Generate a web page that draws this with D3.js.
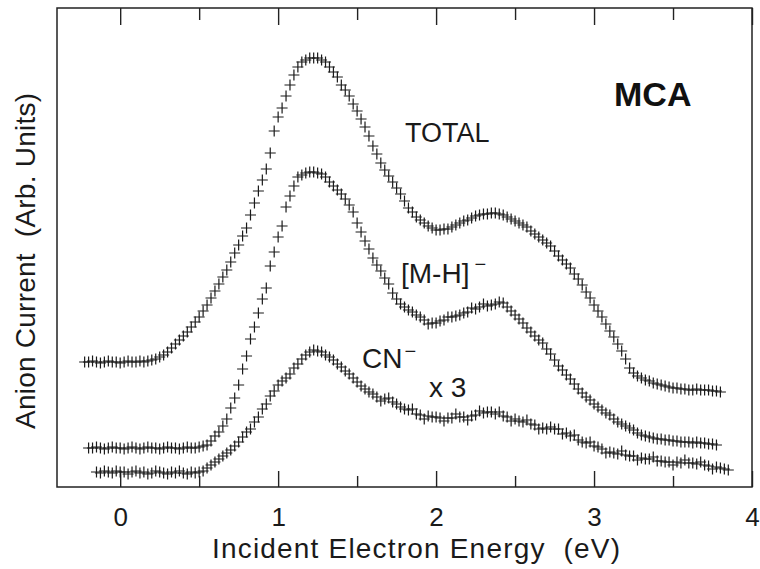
<!DOCTYPE html>
<html><head><meta charset="utf-8">
<script src="https://cdn.jsdelivr.net/npm/d3@7"></script>
<style>body{margin:0;background:#fff}svg{display:block}</style>
</head><body><svg id="c" width="760" height="569"></svg>
<script>
// Incident electron energy grid (eV)
const energy = [
-0.25,-0.225,-0.2,-0.175,-0.15,-0.125,-0.1,-0.075,-0.05,-0.025,
0,0.025,0.05,0.075,0.1,0.125,0.15,0.175,0.2,0.225,
0.25,0.275,0.3,0.325,0.35,0.375,0.4,0.425,0.45,0.475,
0.5,0.525,0.55,0.575,0.6,0.625,0.65,0.675,0.7,0.725,
0.75,0.775,0.8,0.825,0.85,0.875,0.9,0.925,0.95,0.975,
1,1.025,1.05,1.075,1.1,1.125,1.15,1.175,1.2,1.225,
1.25,1.275,1.3,1.325,1.35,1.375,1.4,1.425,1.45,1.475,
1.5,1.525,1.55,1.575,1.6,1.625,1.65,1.675,1.7,1.725,
1.75,1.775,1.8,1.825,1.85,1.875,1.9,1.925,1.95,1.975,
2,2.025,2.05,2.075,2.1,2.125,2.15,2.175,2.2,2.225,
2.25,2.275,2.3,2.325,2.35,2.375,2.4,2.425,2.45,2.475,
2.5,2.525,2.55,2.575,2.6,2.625,2.65,2.675,2.7,2.725,
2.75,2.775,2.8,2.825,2.85,2.875,2.9,2.925,2.95,2.975,
3,3.025,3.05,3.075,3.1,3.125,3.15,3.175,3.2,3.225,
3.25,3.275,3.3,3.325,3.35,3.375,3.4,3.425,3.45,3.475,
3.5,3.525,3.55,3.575,3.6,3.625,3.65,3.675,3.7,3.725,
3.75,3.775,3.8,3.825,3.85];

// TOTAL anion current (arb. units, offset curve)
const total = [
null,125,125,126,125,124,125,126,125,125,
124,125,126,125,125,126,125,126,127,128,
130,132,135,139,143,147,151,155,160,165,
170,176,182,189,196,203,210,217,225,234,
242,251,259,272,284,296,307,318,334,356,
370,379,391,402,412,420,425,427,429,429,
429,427,425,420,415,410,402,397,391,383,
376,368,360,351,341,333,324,317,311,305,
299,293,286,279,275,270,267,264,261,259,
257,257,258,258,260,262,264,266,267,269,
271,272,273,273,274,274,273,272,270,268,
266,264,262,260,256,253,250,247,244,241,
236,231,227,223,219,213,208,202,195,189,
182,176,170,163,156,150,143,136,128,119,
114,111,109,107,106,104,103,102,101,100,
99,99,98,98,97,97,98,97,97,97,
96,96,95,null,null];

// [M-H]- anion current
const mh = [
null,null,39,39,40,39,38,39,40,39,
39,38,39,40,39,38,39,40,39,39,
38,39,40,39,39,38,39,40,39,39,
40,41,42,46,51,55,61,68,79,89,
102,118,131,148,160,174,188,199,221,235,
250,261,280,291,301,310,312,314,315,315,
314,313,310,305,301,297,293,288,282,275,
264,255,246,238,229,222,216,209,203,194,
188,183,180,177,175,172,170,167,163,164,
164,166,167,170,170,171,172,174,175,179,
178,180,183,181,182,183,185,184,180,176,
172,168,164,159,155,151,147,144,138,133,
127,121,117,112,108,103,98,94,90,87,
83,80,77,74,72,68,65,63,61,59,
57,54,52,51,50,49,48,48,47,47,
46,46,45,45,45,44,45,44,44,43,
43,42,null,null,null];

// CN- anion current (x 3)
const cn = [
null,null,null,null,15,14,16,15,14,16,
15,15,13,15,16,14,15,13,14,16,
15,14,13,15,14,16,14,13,15,14,
15,16,19,22,25,28,31,34,37,41,
45,50,55,58,65,70,78,83,91,96,
102,106,109,113,119,123,128,132,135,137,
136,135,132,130,127,123,120,116,113,109,
105,101,98,95,93,90,86,88,89,85,
83,80,78,77,78,73,72,68,71,70,
70,69,66,69,69,73,70,70,67,71,
72,76,74,75,75,73,75,71,70,66,
68,66,65,67,63,62,58,59,58,60,
58,58,53,54,51,52,47,45,44,45,
41,40,38,34,35,34,33,36,32,31,
31,27,29,28,28,30,26,26,25,25,
22,25,24,27,24,24,23,25,22,21,
18,20,19,18,17];

const xMajor = [0,1,2,3,4];
const xMinor = [0.5,1.5,2.5,3.5];
const seriesList = [total, mh, cn];

const svg = d3.select("#c");
const FONT = "'Liberation Sans', Arial, Helvetica, sans-serif";
const INK = "#1a1a1a";
const x = d3.scaleLinear().domain([-0.4, 4.0]).range([57, 752]);
const y = d3.scaleLinear().domain([0, 479]).range([487, 8]);

function styleTicks(g) {
  g.select(".domain").remove();
  g.selectAll("line").attr("stroke", "#222").attr("stroke-width", 1.4);
}

// bottom axis major (inward ticks) with labels
const gB = svg.append("g").attr("transform", `translate(0,${y(0)})`)
  .call(d3.axisBottom(x).tickValues(xMajor).tickSizeInner(-16).tickSizeOuter(0).tickPadding(21).tickFormat(d3.format("d")));
styleTicks(gB);
gB.selectAll("text").attr("font-family", FONT).attr("font-size", 26).attr("fill", INK);

const gBm = svg.append("g").attr("transform", `translate(0,${y(0)})`)
  .call(d3.axisBottom(x).tickValues(xMinor).tickSizeInner(-11).tickSizeOuter(0).tickFormat(""));
styleTicks(gBm);

// top axis (inward ticks, no labels)
const gT = svg.append("g").attr("transform", `translate(0,${y(479)})`)
  .call(d3.axisTop(x).tickValues(xMajor).tickSizeInner(-17).tickSizeOuter(0).tickFormat(""));
styleTicks(gT);
const gTm = svg.append("g").attr("transform", `translate(0,${y(479)})`)
  .call(d3.axisTop(x).tickValues(xMinor).tickSizeInner(-12).tickSizeOuter(0).tickFormat(""));
styleTicks(gTm);

// frame
svg.append("rect")
  .attr("x", x(-0.4)).attr("y", y(479))
  .attr("width", x(4.0) - x(-0.4)).attr("height", y(0) - y(479))
  .attr("fill", "none").attr("stroke", "#222").attr("stroke-width", 1.5);

// data markers (+)
const cross = "M-5.5,0H5.5M0,-5.5V5.5";
seriesList.forEach(vals => {
  const pts = energy.map((e, i) => ({e, v: vals[i]})).filter(d => d.v !== null);
  svg.append("g").selectAll("path").data(pts).join("path")
    .attr("d", cross)
    .attr("transform", d => `translate(${x(d.e)},${y(d.v)})`)
    .attr("fill", "none").attr("stroke", INK).attr("stroke-width", 1.2);
});

// axis titles
svg.append("text").attr("x", 416).attr("y", 558).attr("text-anchor", "middle")
  .attr("font-family", FONT).attr("font-size", 28).attr("fill", INK)
  .attr("textLength", 408).attr("lengthAdjust", "spacing")
  .style("white-space", "pre").text("Incident Electron Energy  (eV)");
svg.append("text").attr("transform", "translate(35,261) rotate(-90)").attr("text-anchor", "middle")
  .attr("font-family", FONT).attr("font-size", 28).attr("fill", INK)
  .attr("textLength", 336).attr("lengthAdjust", "spacing")
  .style("white-space", "pre").text("Anion Current  (Arb. Units)");

// annotations
svg.append("text").attr("x", 614).attr("y", 106).attr("font-family", FONT)
  .attr("font-size", 34).attr("font-weight", "bold").attr("fill", "#111").text("MCA");
svg.append("text").attr("x", 405).attr("y", 142).attr("font-family", FONT)
  .attr("font-size", 27).attr("fill", INK).text("TOTAL");
const mhT = svg.append("text").attr("x", 401).attr("y", 283).attr("font-family", FONT)
  .attr("font-size", 28).attr("fill", INK);
mhT.append("tspan").text("[M-H]");
mhT.append("tspan").attr("dx", 5).attr("dy", -12).attr("font-size", 20).text("\u2212");
const cnT = svg.append("text").attr("x", 362).attr("y", 368).attr("font-family", FONT)
  .attr("font-size", 28).attr("fill", INK);
cnT.append("tspan").text("CN");
cnT.append("tspan").attr("dx", 2).attr("dy", -10).attr("font-size", 20).text("\u2212");
svg.append("text").attr("x", 429).attr("y", 397).attr("font-family", FONT)
  .attr("font-size", 28).attr("fill", INK).text("x 3");
</script></body></html>
